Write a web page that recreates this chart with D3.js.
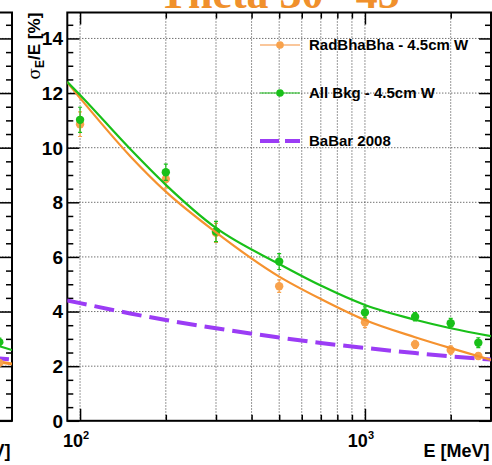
<!DOCTYPE html>
<html lang="en">
<head>
    <title>Energy resolution</title>
    <script src="https://d3js.org/d3.v7.min.js"></script>
    <style>
        body { margin: 0; background: #fff; }
        svg { display: block; font-family: "Liberation Sans", Arial, sans-serif; }
        .grid line { stroke: #333; stroke-width: 1; stroke-dasharray: 1,2; }
        .ticks line { stroke: #000; stroke-width: 1.5; }
        .lbl { font-weight: bold; fill: #000; }
    </style>
</head>
<body>
    <svg id="chart"></svg>

    <script>
        var width = 492;
        var height = 465;
        var frame = { left: 67.3, right: 491, top: 12.5, bottom: 420.8 };

        // measured points
        var energies = [100, 200, 300, 500, 1000, 1500, 2000, 2500];
        var bkgVals = [11.02, 9.10, 6.93, 5.83, 3.97, 3.81, 3.57, 2.86];
        var bkgErrs = [0.46, 0.30, 0.37, 0.29, 0.20, 0.15, 0.18, 0.18];
        var radVals = [10.86, 8.85, 6.88, 4.93, 3.61, 2.80, 2.59, 2.37];
        var radErrs = [0.45, 0.33, 0.35, 0.23, 0.20, 0.15, 0.15, 0.12];

        // fitted curves
        var fitE = [90, 100, 150, 200, 300, 500, 700, 1000, 1500, 2000, 2770];
        var bkgFit = [12.42, 11.93, 9.95, 8.64, 7.06, 5.74, 4.95, 4.24, 3.70, 3.39, 3.10];
        var radFit = [12.40, 11.82, 9.69, 8.39, 6.90, 5.28, 4.46, 3.69, 3.06, 2.66, 2.23];
        var babar = [4.41, 4.31, 3.93, 3.69, 3.39, 3.05, 2.85, 2.67, 2.48, 2.36, 2.24];

        // neighbouring pad on the left (only its right edge shows)
        var leftE = [2300, 2770];
        var leftBkgFit = [2.85, 2.59];
        var leftRadFit = [2.22, 2.08];
        var leftBabar = [2.32, 2.24];
        var leftPtE = [2500];
        var leftBkgPt = [2.88];
        var leftRadPt = [2.12];

        var xMajor = [100, 1000];
        var xMinor = [200, 300, 400, 500, 600, 700, 800, 900, 2000];
        var yMajor = [0, 2, 4, 6, 8, 10, 12, 14];
        var yMinor = d3.range(0.5, 15, 0.5).filter(function (v) { return v % 2 !== 0; });

        var legendNames = ["RadBhaBha - 4.5cm W", "All Bkg - 4.5cm W", "BaBar 2008"];

        var orange = "#f5922f", orangePt = "#f8a24c", orangeLeg = "#f9b57a";
        var green = "#19c019", purple = "#9b3cf5";

        var svg = d3.select("#chart").attr("width", width).attr("height", height);
        svg.append("rect").attr("width", width).attr("height", height).attr("fill", "#fff");

        // title, mostly cut off at the top
        svg.append("text")
            .attr("x", 288).attr("y", 8)
            .attr("text-anchor", "middle")
            .style("font-family", "'Liberation Serif', 'DejaVu Serif', serif")
            .style("font-weight", "bold")
            .style("font-size", "44px")
            .attr("fill", "#f0902c")
            .text("Theta 30\u00b0-45\u00b0");

        var y = d3.scaleLinear().domain([0, 14.95]).range([frame.bottom, frame.top]);

        function drawPad(offset) {
            var x = d3.scaleLog()
                .domain([90.2, 2770])
                .range([frame.left + offset, frame.right + offset]);
            var g = svg.append("g");

            // grid
            var grid = g.append("g").attr("class", "grid");
            grid.selectAll(".gx").data(xMajor.concat(xMinor)).enter().append("line")
                .attr("x1", function (d) { return x(d); }).attr("x2", function (d) { return x(d); })
                .attr("y1", frame.top).attr("y2", frame.bottom);
            grid.selectAll(".gy").data(yMajor.slice(1)).enter().append("line")
                .attr("x1", x.range()[0]).attr("x2", x.range()[1])
                .attr("y1", function (d) { return y(d); }).attr("y2", function (d) { return y(d); });

            // ticks on all four sides
            function tickAxis(axis, tr) {
                var a = g.append("g").attr("class", "ticks").attr("transform", tr).call(axis);
                a.select(".domain").remove();
                a.selectAll("text").remove();
            }
            var xl = x.range()[0], xr = x.range()[1];
            tickAxis(d3.axisTop(x).tickValues(xMajor).tickSize(12), "translate(0," + frame.bottom + ")");
            tickAxis(d3.axisTop(x).tickValues(xMinor).tickSize(6), "translate(0," + frame.bottom + ")");
            tickAxis(d3.axisBottom(x).tickValues(xMajor).tickSize(12), "translate(0," + frame.top + ")");
            tickAxis(d3.axisBottom(x).tickValues(xMinor).tickSize(6), "translate(0," + frame.top + ")");
            tickAxis(d3.axisRight(y).tickValues(yMajor).tickSize(12), "translate(" + xl + ",0)");
            tickAxis(d3.axisRight(y).tickValues(yMinor).tickSize(6), "translate(" + xl + ",0)");
            tickAxis(d3.axisLeft(y).tickValues(yMajor).tickSize(12), "translate(" + xr + ",0)");
            tickAxis(d3.axisLeft(y).tickValues(yMinor).tickSize(6), "translate(" + xr + ",0)");

            g.append("rect")
                .attr("x", xl).attr("y", frame.top)
                .attr("width", xr - xl).attr("height", frame.bottom - frame.top)
                .attr("fill", "none").attr("stroke", "#000").attr("stroke-width", 2);

            // x axis title
            g.append("text").attr("class", "lbl")
                .attr("x", xr - 1.5).attr("y", 456.7)
                .attr("text-anchor", "end").style("font-size", "18px")
                .text("E [MeV]");

            return { g: g, x: x };
        }

        function drawCurve(g, x, xs, vs, color, w, dash) {
            var line = d3.line()
                .x(function (d, i) { return x(xs[i]); })
                .y(function (d) { return y(d); })
                .curve(d3.curveMonotoneX);
            g.append("path").datum(vs)
                .attr("d", line)
                .attr("fill", "none")
                .attr("stroke", color)
                .attr("stroke-width", w)
                .attr("stroke-dasharray", dash || null);
        }

        function drawPoints(g, x, xs, vs, es, color) {
            var pts = g.append("g").selectAll("g").data(vs).enter().append("g");
            pts.append("line")
                .attr("x1", function (d, i) { return x(xs[i]); })
                .attr("x2", function (d, i) { return x(xs[i]); })
                .attr("y1", function (d, i) { return y(d + es[i]); })
                .attr("y2", function (d, i) { return y(d - es[i]); })
                .attr("stroke", color).attr("stroke-width", 1.2);
            [1, -1].forEach(function (s) {
                pts.append("line")
                    .attr("x1", function (d, i) { return x(xs[i]) - 2; })
                    .attr("x2", function (d, i) { return x(xs[i]) + 2; })
                    .attr("y1", function (d, i) { return y(d + s * es[i]); })
                    .attr("y2", function (d, i) { return y(d + s * es[i]); })
                    .attr("stroke", color).attr("stroke-width", 1.2);
            });
            pts.append("circle")
                .attr("cx", function (d, i) { return x(xs[i]); })
                .attr("cy", function (d) { return y(d); })
                .attr("r", 4.2)
                .attr("fill", color);
        }

        // left neighbour pad
        var padL = drawPad(12 - frame.right);
        svg.append("clipPath").attr("id", "clipL").append("rect")
            .attr("x", 0).attr("y", frame.top).attr("width", 12).attr("height", frame.bottom - frame.top);
        var gl = padL.g.append("g").attr("clip-path", "url(#clipL)");
        drawCurve(gl, padL.x, leftE, leftRadFit, orange, 3);
        drawCurve(gl, padL.x, leftE, leftBkgFit, green, 2.2);
        drawCurve(gl, padL.x, leftE, leftBabar, purple, 4, "20,8");
        drawPoints(gl, padL.x, leftPtE, leftRadPt, [0.1], orangePt);
        drawPoints(gl, padL.x, leftPtE, leftBkgPt, [0.15], green);

        // main pad
        var pad = drawPad(0);
        var x = pad.x;
        svg.append("clipPath").attr("id", "clipM").append("rect")
            .attr("x", frame.left).attr("y", frame.top)
            .attr("width", frame.right - frame.left).attr("height", frame.bottom - frame.top);
        var gm = pad.g.append("g").attr("clip-path", "url(#clipM)");

        drawCurve(gm, x, fitE, babar, purple, 4, "20,8");
        drawPoints(gm, x, energies, radVals, radErrs, orangePt);
        drawPoints(gm, x, energies, bkgVals, bkgErrs, green);
        drawCurve(gm, x, fitE, radFit, orange, 2.2);
        drawCurve(gm, x, fitE, bkgFit, green, 2.2);

        // y tick labels
        svg.append("g").selectAll("text").data(yMajor).enter().append("text")
            .attr("class", "lbl")
            .attr("x", 63).attr("y", function (d) { return y(d); })
            .attr("dy", "0.36em")
            .attr("text-anchor", "end")
            .style("font-size", "19px")
            .text(function (d) { return d; });

        // x tick labels 10^n
        var xt = svg.append("g").selectAll("text").data(xMajor).enter().append("text")
            .attr("class", "lbl")
            .attr("x", function (d) { return x(d) - 4; })
            .attr("y", 446.5)
            .attr("text-anchor", "middle")
            .style("font-size", "18px");
        xt.append("tspan").text("10");
        xt.append("tspan").attr("dy", -8).style("font-size", "11px")
            .text(function (d) { return Math.round(Math.log10(d)); });

        // y axis title
        var yt = svg.append("text").attr("class", "lbl")
            .attr("transform", "translate(40," + 12.7 + ") rotate(-90)")
            .attr("text-anchor", "end")
            .style("font-size", "17px");
        yt.append("tspan").style("font-weight", "normal").style("font-family", "'DejaVu Serif', serif").text("\u03c3");
        yt.append("tspan").attr("dy", 4).style("font-size", "12px").text("E");
        yt.append("tspan").attr("dy", -4).text("/E [%]");

        // legend
        var legY = [45, 93, 141];
        var leg = svg.append("g");
        leg.append("line").attr("x1", 260).attr("x2", 300).attr("y1", legY[0]).attr("y2", legY[0])
            .attr("stroke", orangeLeg).attr("stroke-width", 1.5);
        leg.append("circle").attr("cx", 280).attr("cy", legY[0]).attr("r", 3.8).attr("fill", orangePt);
        leg.append("line").attr("x1", 260).attr("x2", 300).attr("y1", legY[1]).attr("y2", legY[1])
            .attr("stroke", green).attr("stroke-width", 1.2);
        leg.append("circle").attr("cx", 280).attr("cy", legY[1]).attr("r", 3.8).attr("fill", green);
        leg.append("line").attr("x1", 260).attr("x2", 300).attr("y1", legY[2]).attr("y2", legY[2])
            .attr("stroke", purple).attr("stroke-width", 4).attr("stroke-dasharray", "19,6");
        leg.selectAll("text").data(legendNames).enter().append("text")
            .attr("class", "lbl")
            .attr("x", 309).attr("y", function (d, i) { return legY[i]; })
            .attr("dy", "0.36em")
            .style("font-size", "15px")
            .text(function (d) { return d; });
    </script>
</body>
</html>
